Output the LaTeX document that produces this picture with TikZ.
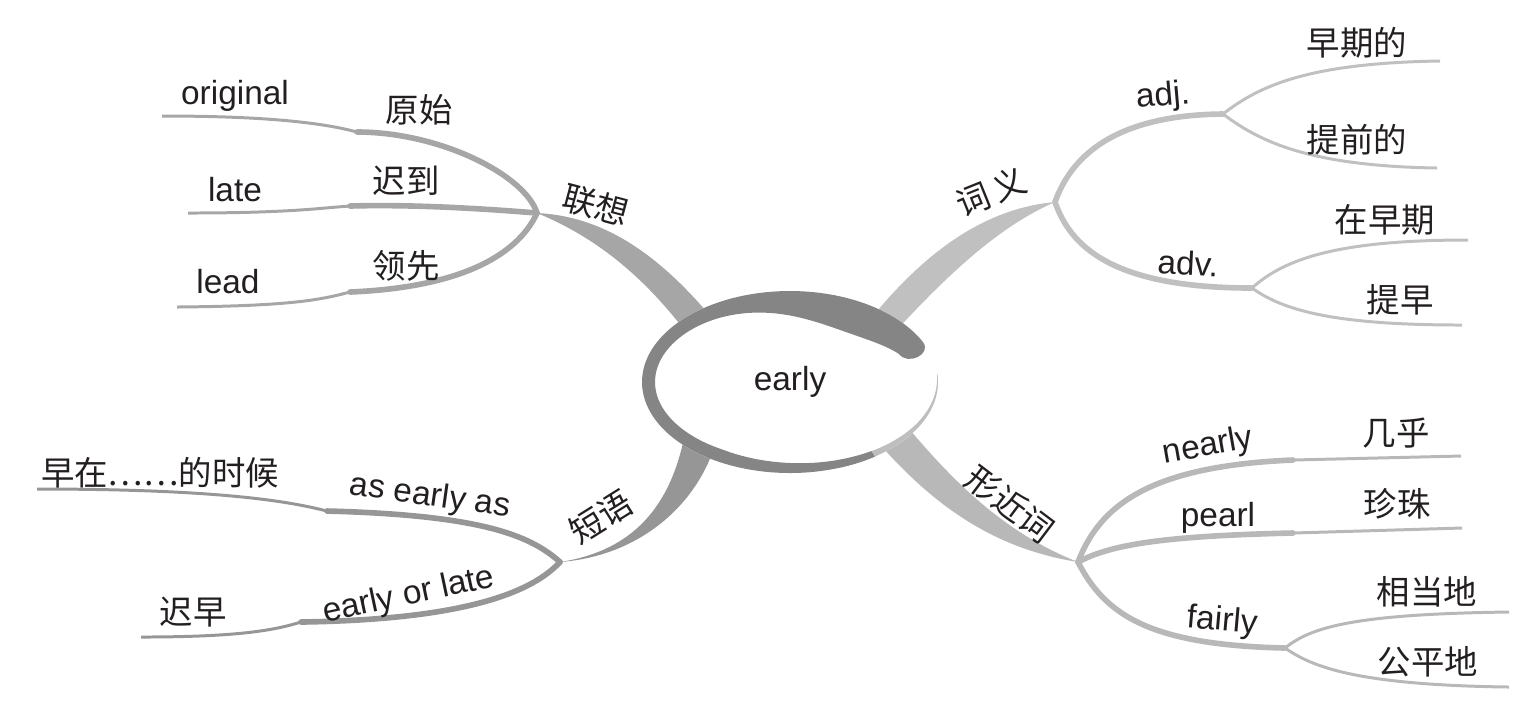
\documentclass[tikz,border=0pt]{standalone}
\usepackage{fontspec}
\setmainfont{Liberation Sans}
\newfontfamily\cjk{Noto Sans CJK SC}
\usepackage{tikz}
\definecolor{txt}{RGB}{35,31,32}
\definecolor{ringdark}{RGB}{133,133,133}
\definecolor{ringlight}{RGB}{190,190,190}
\definecolor{lxgray}{RGB}{166,166,166}
\definecolor{cygray}{RGB}{192,192,192}
\definecolor{dygray}{RGB}{150,150,150}
\definecolor{xjgray}{RGB}{184,184,184}

\begin{document}
\begin{tikzpicture}[x=0.01cm, y=-0.01cm,
  en/.style={font=\fontsize{9.5}{11}\selectfont, text=txt, inner sep=0pt},
  cn/.style={font=\cjk\fontsize{9.5}{11}\selectfont, text=txt, inner sep=0pt},
  stem/.style={line width=1.6pt, line cap=round},
  leaf/.style={line width=0.85pt},
  declare function={bw(\a)=13+21*exp(-((\a-55)/45)*((\a-55)/45))-12*max(\a-240,0)/120;}]

\useasboundingbox (0,0) rectangle (1519,717);

%% Hubs and ends
\coordinate (c) at (790,382);
\coordinate (lx) at (537,213);  % lianxiang
\coordinate (cy) at (1055,202); % ciyi
\coordinate (dy) at (560,562);  % duanyu
\coordinate (xj) at (1078,562); % xingjinci
\coordinate (lxa) at (712,318);  \coordinate (lxb) at (686,332);
\coordinate (cya) at (868,322);  \coordinate (cyb) at (893,334);
\coordinate (dya) at (684,438);  \coordinate (dyb) at (714,448);
\coordinate (xja) at (905,424);  \coordinate (xjb) at (876,440);

%% Main branches (behind the ring)
\fill[lxgray] (lx) .. controls (600,216) and (655,250) .. (lxa)
  -- (lxb) .. controls (655,292) and (610,243) .. (lx) -- cycle;
\fill[cygray] (cy) .. controls (990,208) and (930,245) .. (cya)
  -- (cyb) .. controls (950,272) and (1000,226) .. (cy) -- cycle;
\fill[dygray] (dy) .. controls (625,552) and (668,515) .. (dya)
  -- (dyb) .. controls (695,505) and (640,556) .. (dy) -- cycle;
\fill[xjgray] (xj) .. controls (1010,535) and (960,490) .. (xja)
  -- (xjb) .. controls (930,502) and (990,548) .. (xj) -- cycle;

%% Lianxiang
\coordinate (lx1) at (357,132); \coordinate (lx1e) at (162,116);
\coordinate (lx2) at (350,206); \coordinate (lx2e) at (188,213);
\coordinate (lx3) at (350,292); \coordinate (lx3e) at (177,307);
\draw[stem,lxgray] (lx) .. controls (525,175) and (440,132) .. (lx1);
\draw[leaf,lxgray] (lx1) .. controls (320,122) and (260,116) .. (lx1e);
\draw[stem,lxgray] (lx) .. controls (500,210) and (420,204) .. (lx2);
\draw[leaf,lxgray] (lx2) .. controls (320,208) and (290,213) .. (lx2e);
\draw[stem,lxgray] (lx) .. controls (520,250) and (470,287) .. (lx3);
\draw[leaf,lxgray] (lx3) .. controls (320,300) and (290,306) .. (lx3e);
\node[cn,rotate=-15] (lxt) at (596,205) {联想};
\node[en] (orig) at (235,96) {original};
\node[cn] (yuans) at (419,110) {原始};
\node[en] (late) at (235,190) {late};
\node[cn] (chid) at (406,181) {迟到};
\node[en] (lead) at (228,282) {lead};
\node[cn] (lingx) at (406,266) {领先};

%% Ciyi
\coordinate (ca) at (1223,114); \coordinate (cv) at (1252,288);
\coordinate (ca1) at (1440,61);  \coordinate (ca2) at (1437,168);
\coordinate (cv1) at (1468,240); \coordinate (cv2) at (1462,325);
\draw[stem,cygray] (cy) .. controls (1070,160) and (1110,115) .. (ca);
\draw[stem,cygray] (cy) .. controls (1070,245) and (1110,288) .. (cv);
\draw[leaf,cygray] (ca) .. controls (1260,85) and (1310,63) .. (ca1);
\draw[leaf,cygray] (ca) .. controls (1260,142) and (1310,166) .. (ca2);
\draw[leaf,cygray] (cv) .. controls (1285,258) and (1340,240) .. (cv1);
\draw[leaf,cygray] (cv) .. controls (1285,312) and (1340,325) .. (cv2);
\node[cn,rotate=22] (cyt) at (991,192) {词\,义};
\node[en,rotate=5] (adj) at (1163,97) {adj.};
\node[cn] (zaoq) at (1357,43) {早期的};
\node[cn] (tiq) at (1357,140) {提前的};
\node[en,rotate=-3] (adv) at (1188,263) {adv.};
\node[cn] (zaizq) at (1385,220) {在早期};
\node[cn] (tiz) at (1400,300) {提早};

%% Duanyu
\coordinate (dy1) at (327,511); \coordinate (dy1e) at (37,489);
\coordinate (dy2) at (301,622); \coordinate (dy2e) at (141,637);
\draw[stem,dygray] (dy) .. controls (530,535) and (480,515) .. (dy1);
\draw[leaf,dygray] (dy1) .. controls (295,503) and (230,489) .. (dy1e);
\draw[stem,dygray] (dy) .. controls (525,600) and (440,620) .. (dy2);
\draw[leaf,dygray] (dy2) .. controls (275,630) and (240,637) .. (dy2e);
\node[cn,rotate=32] (dyt) at (601,517) {短语};
\node[en,rotate=-8] (asea) at (430,497) {as early as};
\node[cn] (zaoz) at (160,473) {早在……的时候};
\node[en,rotate=12] (eol) at (409,596) {early or late};
\node[cn] (chiz) at (193,612) {迟早};

%% Xingjinci
\coordinate (xj1) at (1293,460); \coordinate (xj1e) at (1461,456);
\coordinate (xj2) at (1293,533); \coordinate (xj2e) at (1462,528);
\coordinate (xf) at (1285,648);
\coordinate (xf1) at (1509,612); \coordinate (xf2) at (1509,687);
\draw[stem,xjgray] (xj) .. controls (1100,505) and (1150,466) .. (xj1);
\draw[leaf,xjgray] (xj1) -- (xj1e);
\draw[stem,xjgray] (xj) .. controls (1110,545) and (1160,536) .. (xj2);
\draw[leaf,xjgray] (xj2) -- (xj2e);
\draw[stem,xjgray] (xj) .. controls (1105,615) and (1150,645) .. (xf);
\draw[leaf,xjgray] (xf) .. controls (1310,628) and (1350,614) .. (xf1);
\draw[leaf,xjgray] (xf) .. controls (1310,665) and (1350,685) .. (xf2);
\node[cn,rotate=-37] (xjt) at (1010,504) {形近词};
\node[en,rotate=10] (nearly) at (1208,447) {nearly};
\node[cn] (jih) at (1396,433) {几乎};
\node[en] (pearl) at (1218,518) {pearl};
\node[cn] (zhenz) at (1397,504) {珍珠};
\node[en,rotate=-5] (fairly) at (1222,622) {fairly};
\node[cn] (xiangd) at (1427,592) {相当地};
\node[cn] (gongp) at (1428,662) {公平地};

%% Centre ring
\fill[white] plot[domain=0:360,samples=90,smooth] ({790+148*cos(\x)},{382-91*sin(\x)}) -- cycle;
\fill[ringlight] plot[domain=290:365,samples=40] ({790+148*cos(\x)},{382-91*sin(\x)})
  -- plot[domain=365:290,samples=40] ({790+(148-bw(\x))*cos(\x)},{382-(91-bw(\x))*sin(\x)}) -- cycle;
\fill[ringdark] plot[domain=26:305,samples=120] ({790+148*cos(\x)},{382-91*sin(\x)})
  -- plot[domain=305:26,samples=120] ({790+(148-bw(\x))*cos(\x)},{382-(91-bw(\x))*sin(\x)})
  .. controls (908,366) and (932,354) .. (923,342.1) -- cycle;
\node[en] (early) at (c) {early};

\end{tikzpicture}
\end{document}
